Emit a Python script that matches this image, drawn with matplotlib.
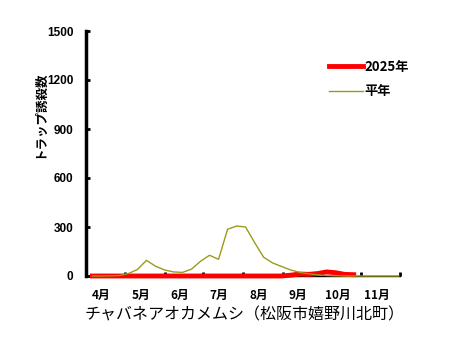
import numpy as np
import matplotlib
matplotlib.use("Agg")
from matplotlib import pyplot as plt

plt.rcParams['font.family'] = ['Noto Sans CJK JP', 'DejaVu Sans']

# days counted from 1 April, one point per week
week_days = [5 + 7 * k for k in range(35)]

heinen = [0, 0, 1, 3, 15, 40, 96, 60, 37, 25,
          22, 42, 90, 127, 102, 286, 306, 300, 205, 115,
          80, 58, 37, 22, 14, 7, 3, 1, 0, 0,
          0, 0, 0, 0, 0]

y2025 = [0, 0, 0, 0, 0, 0, 0, 0, 0, 0,
         0, 0, 0, 0, 0, 0, 0, 0, 0, 0,
         0, 0, 5, 12, 10, 15, 25, 20, 10, 8]

month_starts = [0, 30, 61, 91, 122, 153, 183, 214, 244]
month_labels = ['4月', '5月', '6月', '7月', '8月', '9月', '10月', '11月']
y_ticks = [0, 300, 600, 900, 1200, 1500]

fig = plt.figure(figsize=(4.58, 3.53), dpi=100)
ax = fig.add_axes([86/458, 77/353, 314/458, 245/353])

ax.plot(week_days[:len(y2025)], y2025, color='#ff0000', lw=3.5,
        solid_capstyle='projecting', label='2025年', zorder=3, clip_on=False)
ax.plot(week_days, heinen, color='#9c9a1c', lw=1.0, label='平年', zorder=4,
        clip_on=False)

ax.set_xlim(0, 244)
ax.set_ylim(0, 1500)
ax.set_yticks(y_ticks)
ax.set_yticklabels([str(v) for v in y_ticks], family='Liberation Sans',
                   fontweight='bold', fontsize=8.5)
ax.set_xticks(month_starts)
ax.set_xticklabels([])
mids = [(month_starts[i] + month_starts[i+1]) / 2 - 3 for i in range(8)]
ax.set_xticks(mids, minor=True)
ax.set_xticklabels(month_labels, minor=True, fontsize=8.5, fontweight='bold')
ax.tick_params(axis='x', which='minor', length=0, pad=9)
ax.tick_params(axis='x', which='major', direction='in', length=3, width=2)
ax.tick_params(axis='y', direction='in', length=3, width=2, pad=9)

for s in ['top', 'right']:
    ax.spines[s].set_visible(False)
ax.spines['left'].set_linewidth(2.5)
ax.spines['bottom'].set_linewidth(1.0)

fig.text(40/458, 1 - 114/353, 'トラップ誘殺数', rotation=90, ha='center',
         va='center', fontsize=9, fontweight='bold')
fig.text(245/458, 1 - 315/353, 'チャバネアオカメムシ（松阪市嬉野川北町）',
         ha='center', va='center', fontsize=11.5)

fig.legend(loc='upper left', bbox_to_anchor=(322/458, 1 - 53/353),
           frameon=False, handlelength=2.6, handletextpad=0.15,
           labelspacing=0.8, borderpad=0,
           prop={'size': 9.5, 'weight': 'bold'})

fig.savefig('out.png', dpi=100)
